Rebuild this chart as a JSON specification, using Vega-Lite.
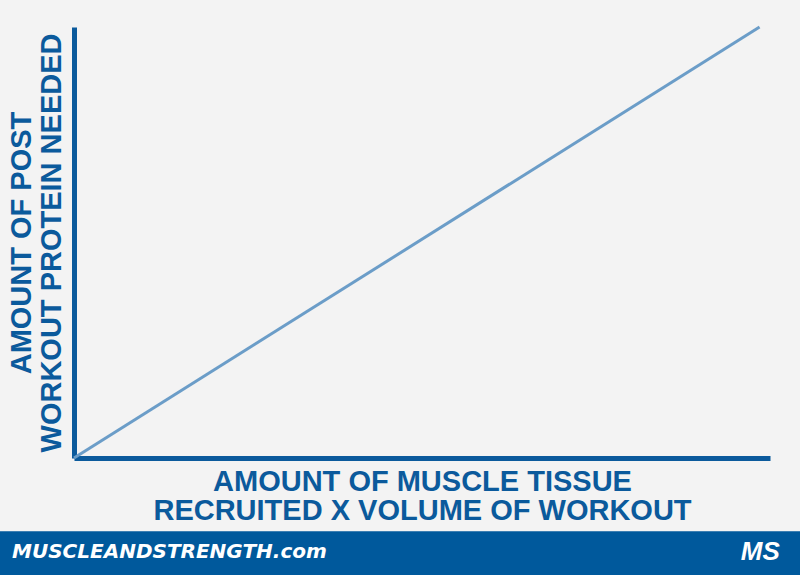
{
  "$schema": "https://vega.github.io/schema/vega-lite/v6.json",
  "autosize": "none",
  "width": 696,
  "height": 431,
  "padding": {"left": 74, "top": 27, "right": 30, "bottom": 117},
  "background": "#f3f3f3",
  "config": {
    "view": {"stroke": null},
    "axis": {
      "grid": false,
      "ticks": false,
      "labels": false,
      "domainColor": "#0b5a9c",
      "domainWidth": 5,
      "titleColor": "#0b5a9c",
      "titleFont": "Liberation Sans",
      "titleFontWeight": "bold",
      "titleFontSize": 29
    }
  },
  "layer": [
    {
      "data": {"values": [{"x": 0, "y": 0}, {"x": 98.5, "y": 100}]},
      "mark": {"type": "line", "color": "#6b9dc8", "strokeWidth": 3},
      "encoding": {
        "x": {
          "field": "x",
          "type": "quantitative",
          "scale": {"domain": [0, 100], "nice": false},
          "axis": {
            "title": ["AMOUNT OF MUSCLE TISSUE", "RECRUITED X VOLUME OF WORKOUT"],
            "titlePadding": 9,
            "titleLineHeight": 29
          }
        },
        "y": {
          "field": "y",
          "type": "quantitative",
          "scale": {"domain": [0, 100], "nice": false},
          "axis": {
            "title": ["AMOUNT OF POST", "WORKOUT PROTEIN NEEDED"],
            "titlePadding": 8,
            "titleLineHeight": 30
          }
        }
      }
    },
    {
      "data": {"values": [{"x0": -10.7, "x1": 104.4, "y0": -17, "y1": -27.2}]},
      "mark": {"type": "rect", "color": "#00599c", "clip": false},
      "encoding": {
        "x": {"field": "x0", "type": "quantitative"},
        "x2": {"field": "x1"},
        "y": {"field": "y0", "type": "quantitative"},
        "y2": {"field": "y1"}
      }
    },
    {
      "data": {"values": [{"x": -8.9, "y": -21.8, "label": "MUSCLEANDSTRENGTH.com"}]},
      "mark": {
        "type": "text",
        "color": "white",
        "font": "DejaVu Sans",
        "fontWeight": "bold",
        "fontStyle": "italic",
        "fontSize": 20,
        "align": "left",
        "baseline": "middle"
      },
      "encoding": {
        "x": {"field": "x", "type": "quantitative"},
        "y": {"field": "y", "type": "quantitative"},
        "text": {"field": "label"}
      }
    },
    {
      "data": {"values": [{"x": 101.4, "y": -21.8, "label": "MS"}]},
      "mark": {
        "type": "text",
        "color": "white",
        "font": "Liberation Sans",
        "fontWeight": "bold",
        "fontStyle": "italic",
        "fontSize": 26,
        "align": "right",
        "baseline": "middle"
      },
      "encoding": {
        "x": {"field": "x", "type": "quantitative"},
        "y": {"field": "y", "type": "quantitative"},
        "text": {"field": "label"}
      }
    }
  ]
}
